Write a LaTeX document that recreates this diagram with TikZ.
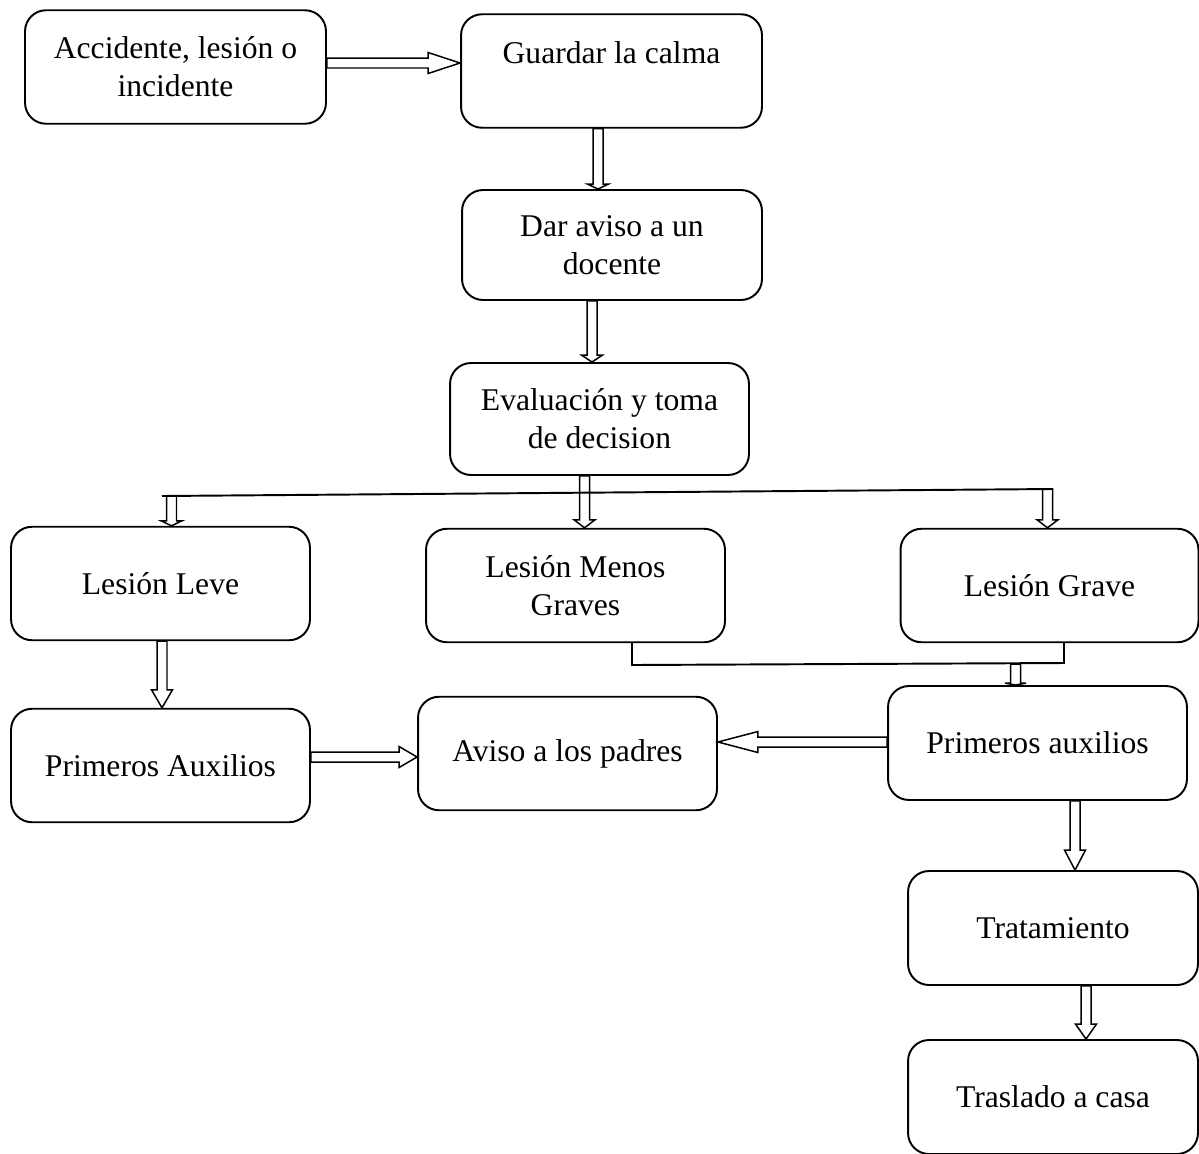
\documentclass[tikz,border=0pt]{standalone}
\usepackage{fontspec}
\setmainfont{Liberation Serif}
\usetikzlibrary{calc}

% hollow block arrow: from, to, head length (px)
\newcommand{\barrow}[3]{%
  \coordinate (ba-s) at #1;
  \coordinate (ba-e) at #2;
  \coordinate (ba-h) at ($(ba-e)!#3*0.02cm!(ba-s)$);
  \draw[blockarrow] ($(ba-s)!0.1cm!90:(ba-e)$) -- ($(ba-h)!0.1cm!90:(ba-e)$)
    -- ($(ba-h)!0.21cm!90:(ba-e)$) -- (ba-e) -- ($(ba-h)!0.21cm!-90:(ba-e)$)
    -- ($(ba-h)!0.1cm!-90:(ba-e)$) -- ($(ba-s)!0.1cm!-90:(ba-e)$) -- cycle;
}

\begin{document}
\begin{tikzpicture}[x=0.02cm, y=-0.02cm]
      \tikzstyle{every node} = [font=\fontsize{18}{21.6}\selectfont, align=center];
      \tikzstyle{box} = [draw, line width=1.1pt, rounded corners=0.42cm, inner sep=0pt, minimum width=6cm, minimum height=2.27cm];
      \tikzstyle{blockarrow} = [line width=0.85pt, line join=miter];
      \tikzstyle{link} = [line width=1.1pt];
      \useasboundingbox (0,0) rectangle (1199,1153);
      \node(acc) [box, minimum width=6.02cm] at (175.5, 67) {Accidente, lesión o\\incidente};
      \node(guardar) [box, minimum width=6.02cm] at (611.5, 71) {Guardar la calma\\\mbox{}};
      \node(dar) [box, minimum height=2.2cm] at (612, 245) {Dar aviso a un\\docente};
      \node(eval) [box, minimum width=5.98cm, minimum height=2.24cm] at (599.5, 419) {Evaluación y toma\\de decision};
      \node(leve) [box, minimum width=5.98cm] at (160.5, 583.5) {Lesión Leve};
      \node(menos) [box, minimum width=5.98cm] at (575.5, 585.5) {Lesión Menos\\Graves};
      \node(grave) [box, minimum width=5.96cm] at (1049.5, 585.5) {Lesión Grave};
      \node(pa1) [box, minimum width=5.98cm] at (160.5, 765.5) {Primeros Auxilios};
      \node(aviso) [box, minimum width=5.98cm] at (567.5, 753.5) {Aviso a los padres};
      \node(pa2) [box, minimum width=5.98cm, minimum height=2.28cm] at (1037.5, 743) {Primeros auxilios};
      \node(trat) [box, minimum width=5.8cm, minimum height=2.28cm] at (1053, 928) {Tratamiento};
      \node(tras) [box, minimum width=5.8cm, minimum height=2.28cm] at (1053, 1097) {Traslado a casa};
      % split lines
      \coordinate (splitL) at (162, 496);
      \coordinate (splitR) at (1053, 489);
      \coordinate (splitLa) at (171.5, 496);
      \coordinate (splitRa) at (1047.5, 489);
      \coordinate (joinL) at (632, 665);
      \coordinate (joinR) at (1064, 663);
      \coordinate (joinM) at (1015.5, 664);
      \draw[link] (splitL) -- (splitR);
      \draw[link] (menos.south -| joinL) -- (joinL) -- (joinR) -- (grave.south -| joinR);
      % block arrows
      \barrow{($(acc.east)+(0,-4)$)}{($(guardar.west)+(0,-8)$)}{32}
      \barrow{($(guardar.south)+(-13.5,0)$)}{($(dar.north)+(-14,0)$)}{5}
      \barrow{($(dar.south)+(-20,0)$)}{($(eval.north)+(-7.5,0)$)}{7}
      \barrow{($(eval.south)+(-15,0)$)}{($(menos.north)+(9,0)$)}{8}
      \barrow{(splitLa)}{(leve.north -| splitLa)}{5}
      \barrow{(splitRa)}{(grave.north -| splitRa)}{8}
      \barrow{($(leve.south)+(1.5,0)$)}{($(pa1.north)+(1.5,0)$)}{18}
      \barrow{($(pa1.east)+(0,-8.5)$)}{($(aviso.west)+(0,3.5)$)}{18}
      \barrow{($(pa2.west)+(0,-1)$)}{($(aviso.east)+(0,-11.5)$)}{40}
      \barrow{(joinM)}{(pa2.north -| joinM)}{2}
      \barrow{($(pa2.south)+(37.5,0)$)}{($(trat.north)+(22,0)$)}{20}
      \barrow{($(trat.south)+(33,0)$)}{($(tras.north)+(33,0)$)}{15}
    \end{tikzpicture}
\end{document}
